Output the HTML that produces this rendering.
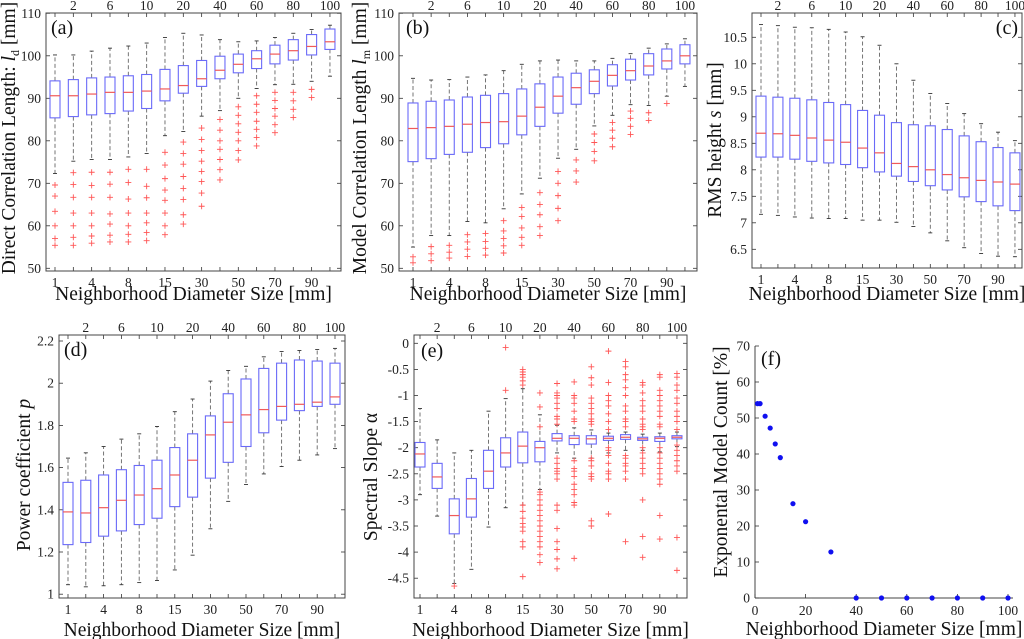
<!DOCTYPE html>
<html><head><meta charset="utf-8"><style>
html,body{margin:0;padding:0;background:#fff;}
svg{display:block;}
text{font-family:"Liberation Serif","Times New Roman",serif;}
</style></head><body>
<svg id="fig" width="1024" height="639" viewBox="0 0 1024 639" xmlns="http://www.w3.org/2000/svg" font-family="Liberation Serif, serif"></svg>
<script>
const categories=[1,2,4,6,8,10,15,20,30,40,50,60,70,80,90,100];
// (a)
const aMed=[90.6,90.6,91,91.4,91.4,91.7,92.2,93,94.6,96.6,98,99.3,100.4,101.2,102.2,103.3];
const aQ1=[85.4,85.7,86.1,86.4,87,87.6,89.4,91.2,92.8,94.6,96,97,98.1,99,100.2,101.5];
const aQ3=[94.1,94.4,94.8,95,95.3,95.6,96.8,97.7,98.9,99.9,100.4,101.2,102.5,103.8,105,106.3];
const aHi=[100.2,100.2,101.1,101.8,102.3,103,104.3,105.3,104.9,103.8,103.3,103.5,104.3,105.3,106.2,107.2];
const aLo=[72.3,75.2,75.6,75.6,76.2,77,81.2,82.2,85.8,87.1,90,92.3,93.2,93.3,94,95.2];
const aOut=[[69.6,67,63.4,60,57,55.4],[72.5,69.7,66.7,63,60,57.3,55.4],[72.6,69.5,66.7,63,60,57.6,55.9],[72.6,69.8,66.7,62.8,60.4,57.8,56.2],[73.3,70.2,66.3,63,60,58,56.2],[73.3,69.3,66.6,63,60.7,58.4,56.5],[77.3,74.3,71.1,68.4,66,63,60,57.9],[79.7,77,74.5,71.6,68.8,66.2,62.6,60.4],[83,80.3,77.7,75.2,72.8,70.4,67.7,64.6],[85,82.5,80,78,75.6,73.2,70.8],[88,86,84,82,80,77.7,75.5],[90.6,88.6,86.7,84.6,82.7,80.8,78.8],[91.4,89.5,87.6,85.8,83.8,81.9],[91.4,89.4,87.4,85.5],[92.1,90.2],[]];
// (b)
const bMed=[82.9,83.1,83.4,83.9,84.3,84.5,85.8,87.9,90.5,92.5,94,95.4,96.5,97.6,98.8,100];
const bQ1=[75.1,75.8,76.8,77.3,78.4,79.3,81.4,83.4,86.5,88.6,91.1,92.9,94.3,95.5,96.9,98.1];
const bQ3=[88.9,89.3,89.6,90.3,90.7,91.1,92.2,93.4,95,95.9,96.7,97.9,99.2,100.5,101.6,102.6];
const bHi=[94.7,94.3,94.4,95,95.5,96.5,98,98.8,99,98.8,98.8,99.4,100.5,101.8,102.8,104];
const bLo=[55,57.7,57.7,61,60.7,64,67.5,71.2,75.9,78,83.5,86,88.5,88.3,90.5,92.8];
const bOut=[[52.7,51.3],[55.1,53.4,51.8],[55.4,53.8,52.4],[57.9,56.2,54.5,52.8],[58.2,56.3,54.7,53.1],[61.2,58.8,57,55.3,53.6],[64.3,62.2,59.5,57.3,55.4],[67.8,65,62.6,59.8,57.7],[72.8,70,67.1,64.1,61.2],[75.5,72.9,70.3],[81.6,79.6,77.5,75.3],[84.3,82.5,80.6,78.6],[87,85.3,83.4,81.5],[86.6,84.8],[88.8],[]];
// (c)
const cMed=[8.69,8.68,8.65,8.6,8.56,8.52,8.41,8.32,8.12,8.06,8.0,7.91,7.85,7.8,7.77,7.73];
const cQ1=[8.24,8.24,8.2,8.16,8.13,8.1,8.04,7.96,7.88,7.78,7.7,7.62,7.49,7.4,7.32,7.23];
const cQ3=[9.39,9.37,9.35,9.32,9.27,9.23,9.12,9.03,8.89,8.85,8.83,8.76,8.64,8.53,8.42,8.32];
const cHi=[10.74,10.72,10.69,10.68,10.65,10.6,10.51,10.35,10.0,9.69,9.44,9.25,9.06,8.87,8.71,8.55];
const cLo=[7.16,7.14,7.11,7.09,7.08,7.08,7.05,7.05,7.01,6.93,6.81,6.66,6.53,6.42,6.37,6.36];
const cOut=[[],[],[],[],[],[],[],[],[],[],[],[],[],[],[],[]];
// (d)
const dMed=[1.39,1.385,1.41,1.445,1.47,1.5,1.565,1.635,1.755,1.815,1.85,1.875,1.89,1.9,1.91,1.935];
const dQ1=[1.235,1.245,1.275,1.3,1.33,1.36,1.415,1.46,1.55,1.625,1.7,1.765,1.825,1.87,1.89,1.9];
const dQ3=[1.53,1.54,1.565,1.59,1.61,1.635,1.695,1.76,1.845,1.95,2.02,2.07,2.095,2.11,2.105,2.095];
const dHi=[1.645,1.67,1.7,1.735,1.76,1.795,1.865,1.925,2.01,2.06,2.08,2.125,2.15,2.155,2.16,2.165];
const dLo=[1.045,1.035,1.04,1.045,1.055,1.065,1.115,1.185,1.31,1.44,1.52,1.57,1.605,1.635,1.66,1.69];
const dOut=[[],[],[],[],[],[],[],[],[],[],[],[],[],[],[],[]];
// (e)
const eMed=[-2.12,-2.56,-3.3,-2.98,-2.45,-2.1,-1.97,-2.0,-1.82,-1.82,-1.83,-1.82,-1.8,-1.83,-1.82,-1.8];
const eQ1=[-2.37,-2.78,-3.65,-3.33,-2.78,-2.37,-2.29,-2.27,-1.87,-1.94,-1.93,-1.86,-1.84,-1.86,-1.88,-1.83];
const eQ3=[-1.9,-2.3,-2.98,-2.59,-2.05,-1.81,-1.7,-1.88,-1.73,-1.77,-1.77,-1.78,-1.75,-1.8,-1.79,-1.77];
const eHi=[-1.25,-1.85,-2.1,-2.05,-1.3,-1.06,-0.87,-1.37,-1.57,-1.62,-1.66,-1.72,-1.7,-1.74,-1.72,-1.7];
const eLo=[-2.9,-3.31,-4.6,-4.33,-3.52,-3.15,-3.1,-2.8,-2.1,-2.2,-2.2,-2.1,-2.05,-2.05,-2.08,-1.98];
const eOut=[[],[],[-4.65],[],[],[-0.08,-0.9],
[-0.5,-0.55,-0.6,-0.65,-0.72,-0.8,-3.1,-3.22,-3.35,-3.45,-3.52,-3.6,-3.8,-3.9,-4.47],
[-0.95,-1.22,-1.6,-2.85,-2.9,-3.0,-3.1,-3.2,-3.3,-3.4,-3.5,-3.6,-3.7,-3.8,-3.9,-4.05,-4.2],
[-0.77,-0.95,-1.0,-1.05,-1.15,-1.25,-1.4,-1.45,-1.55,-2.2,-2.3,-2.4,-2.45,-2.5,-2.6,-3.1,-3.2,-3.55,-3.8,-3.95,-4.13,-4.32],
[-0.74,-1.0,-1.05,-1.15,-1.3,-1.45,-1.5,-2.25,-2.4,-2.45,-2.55,-2.7,-2.8,-2.9,-3.05,-3.1,-4.12],
[-0.45,-0.66,-0.8,-1.05,-1.15,-1.25,-1.35,-1.45,-1.5,-1.55,-2.2,-2.25,-2.35,-2.5,-2.55,-2.6,-3.4,-3.5],
[-0.15,-0.75,-1.0,-1.1,-1.2,-1.35,-1.5,-1.65,-2.0,-2.05,-2.15,-2.3,-2.45,-2.5,-2.6,-3.27],
[-0.35,-0.45,-0.6,-0.7,-0.85,-1.0,-1.2,-1.3,-1.45,-1.5,-1.6,-2.15,-2.2,-2.3,-2.35,-2.45,-2.6,-3.8],
[-0.75,-0.8,-0.95,-1.1,-1.2,-1.3,-1.45,-1.55,-1.6,-1.65,-2.0,-2.1,-2.2,-2.3,-2.4,-2.5,-3.0,-3.7,-4.1],
[-0.6,-0.65,-0.9,-1.0,-1.1,-1.2,-1.3,-1.4,-1.55,-1.6,-2.0,-2.1,-2.2,-2.3,-2.4,-2.5,-2.6,-2.7,-3.3,-3.75],
[-0.58,-0.65,-0.8,-0.9,-1.05,-1.15,-1.3,-1.4,-1.5,-1.65,-1.95,-2.05,-2.15,-2.25,-2.35,-2.45,-3.72,-4.35]];
// (f)
const fX=[1,2,4,6,8,10,15,20,30,40,50,60,70,80,90,100];
const fY=[54,54,50.5,47.2,42.8,39,26.2,21.2,12.8,0,0,0,0,0,0,0];
const abTicks=[50,60,70,80,90,100,110];
const cTicks=[6.5,7,7.5,8,8.5,9,9.5,10,10.5];
const dTicks=[1,1.2,1.4,1.6,1.8,2,2.2];
const eTicks=[-4.5,-4,-3.5,-3,-2.5,-2,-1.5,-1,-0.5,0];
const fXTicks=[0,20,40,60,80,100];
const fYTicks=[0,10,20,30,40,50,60,70];

const NS="http://www.w3.org/2000/svg";
const svg=document.getElementById('fig');
const FF='"Liberation Serif", serif';
function mk(tag,attrs,parent,txt){const e=document.createElementNS(NS,tag);for(const k in attrs)e.setAttribute(k,attrs[k]);if(tag==='text')e.setAttribute('font-family',FF);if(txt!==undefined)e.textContent=txt;(parent||svg).appendChild(e);return e;}

function boxPanel(p){
  const g=mk('g',{});
  
  
  const L=p.L,R=p.R,T=p.T,B=p.B;
  const xs=i=>p.x0+i*p.dx;
  const ys=v=>p.yv0+(p.v0-v)*p.k;
  p.ticks.forEach(t=>{const y=ys(t);
    mk('line',{x1:L,x2:L+4,y1:y,y2:y,stroke:'#333','stroke-width':0.8},g);
    mk('line',{x1:R,x2:R-4,y1:y,y2:y,stroke:'#333','stroke-width':0.8},g);
    const tl=mk('text',{x:L-5,y:y+4.5,'text-anchor':'end','font-size':13.5,fill:'#222'},g,String(t));
    
    
  });
  categories.forEach((c,i)=>{const x=xs(i);
    mk('line',{x1:x,x2:x,y1:B,y2:B-4,stroke:'#333','stroke-width':0.8},g);
    mk('line',{x1:x,x2:x,y1:T,y2:T+4,stroke:'#333','stroke-width':0.8},g);
    const top=i%2===1;
    const tl=mk('text',{x:x,y:top?T-3:B+16,'text-anchor':'middle','font-size':13.5,fill:'#222'},g,String(c));
    
    
  });
  const hw=5;
  categories.forEach((c,i)=>{const x=xs(i);
    const bg=mk('g',{},g);
    
    
    mk('line',{x1:x,x2:x,y1:ys(p.q3[i]),y2:ys(p.hi[i]),stroke:'#666','stroke-width':0.9,'stroke-dasharray':'4 2.5'},bg);
    mk('line',{x1:x,x2:x,y1:ys(p.q1[i]),y2:ys(p.lo[i]),stroke:'#666','stroke-width':0.9,'stroke-dasharray':'4 2.5'},bg);
    mk('line',{x1:x-2,x2:x+2,y1:ys(p.hi[i]),y2:ys(p.hi[i]),stroke:'#333','stroke-width':0.9},bg);
    mk('line',{x1:x-2,x2:x+2,y1:ys(p.lo[i]),y2:ys(p.lo[i]),stroke:'#333','stroke-width':0.9},bg);
    mk('rect',{x:x-hw,y:ys(p.q3[i]),width:2*hw,height:ys(p.q1[i])-ys(p.q3[i]),fill:'none',stroke:'#6a6af8','stroke-width':1.1},bg);
    mk('line',{x1:x-hw,x2:x+hw,y1:ys(p.med[i]),y2:ys(p.med[i]),stroke:'#f05a5a','stroke-width':1.2},bg);
    p.out[i].forEach(v=>{const y=ys(v);
      const o=mk('path',{d:`M${x-3} ${y}H${x+3}M${x} ${y-3}V${y+3}`,stroke:'#f55','stroke-width':0.9,fill:'none'},bg);
      
      
    });
  });
  const fr=mk('rect',{x:L,y:T,width:R-L,height:B-T,fill:'none',stroke:'#444','stroke-width':1},g);
  
  
  const pl=mk('text',{x:p.lx,y:p.ly,'text-anchor':p.la||'start','font-size':20,fill:'#111'},g,p.label);
  
  
  const xt=mk('text',{x:(L+R)/2+p.xtOff,y:p.xtY,'text-anchor':'middle','font-size':19.5,fill:'#111'},g,'Neighborhood Diameter Size [mm]');
  
  
  const yt=mk('text',{x:0,y:0,'text-anchor':'middle','font-size':19.5,fill:'#111',transform:`translate(${p.ytX},${p.ytY}) rotate(-90)`},g);
  
  
  yt.innerHTML=p.ytitle;
}

boxPanel({id:'a',L:46,R:341,T:13,B:271,x0:55,dx:18.33,v0:50,yv0:268.3,k:4.25,ticks:abTicks,
  med:aMed,q1:aQ1,q3:aQ3,hi:aHi,lo:aLo,out:aOut,label:'(a)',lx:51,ly:34,xtOff:0,xtY:300,ytX:15,ytY:138,
  ytitle:'Direct Correlation Length: <tspan font-style="italic">l</tspan><tspan font-size="12" dy="4">d</tspan><tspan dy="-4"> [mm]</tspan>'});
boxPanel({id:'b',L:399,R:697,T:13,B:271,x0:413,dx:18.13,v0:50,yv0:268.3,k:4.25,ticks:abTicks,
  med:bMed,q1:bQ1,q3:bQ3,hi:bHi,lo:bLo,out:bOut,label:'(b)',lx:406,ly:34,xtOff:0,xtY:300,ytX:366,ytY:138,
  ytitle:'Model Correlation Length <tspan font-style="italic">l</tspan><tspan font-size="12" dy="4">m</tspan><tspan dy="-4"> [mm]</tspan>'});
boxPanel({id:'c',L:752,R:1022,T:13,B:268,x0:761,dx:16.93,v0:10.5,yv0:37.3,k:53,ticks:cTicks,
  med:cMed,q1:cQ1,q3:cQ3,hi:cHi,lo:cLo,out:cOut,label:'(c)',lx:1018,ly:34,la:'end',xtOff:0,xtY:300,ytX:721,ytY:140,
  ytitle:'RMS height <tspan font-style="italic">s</tspan> [mm]'});
boxPanel({id:'d',L:59,R:345,T:335,B:598,x0:68,dx:17.8,v0:2.2,yv0:341,k:211,ticks:dTicks,
  med:dMed,q1:dQ1,q3:dQ3,hi:dHi,lo:dLo,out:dOut,label:'(d)',lx:64,ly:356,xtOff:0,xtY:636,ytX:30,ytY:475,
  ytitle:'Power coefficient <tspan font-style="italic">p</tspan>'});
boxPanel({id:'e',L:414,R:687,T:335,B:598,x0:420,dx:17.13,v0:0,yv0:343.3,k:52.2,ticks:eTicks,
  med:eMed,q1:eQ1,q3:eQ3,hi:eHi,lo:eLo,out:eOut,label:'(e)',lx:421,ly:357,xtOff:0,xtY:636,ytX:377,ytY:477,
  ytitle:'Spectral Slope α'});

(function(){
  const g=mk('g',{});
  
  
  const L=755,B=598,R=1013,T=346;
  const xs=v=>755+v*2.53, ys=v=>598-v*3.6;
  mk('line',{x1:L,x2:L,y1:T,y2:B,stroke:'#444','stroke-width':1},g);
  mk('line',{x1:L,x2:R,y1:B,y2:B,stroke:'#444','stroke-width':1},g);
  fYTicks.forEach(t=>{const y=ys(t);
    mk('line',{x1:L,x2:L+4,y1:y,y2:y,stroke:'#333','stroke-width':0.8},g);
    const tl=mk('text',{x:L-5,y:y+4.5,'text-anchor':'end','font-size':13.5,fill:'#222'},g,String(t));
    
    
  });
  fXTicks.forEach(t=>{const x=xs(t);
    mk('line',{x1:x,x2:x,y1:B,y2:B-4,stroke:'#333','stroke-width':0.8},g);
    const tl=mk('text',{x:x,y:B+17,'text-anchor':'middle','font-size':13.5,fill:'#222'},g,String(t));
    
    
  });
  fX.forEach((v,i)=>{
    const c=mk('circle',{cx:xs(v),cy:ys(fY[i]),r:2.6,fill:'#1010f0'},g);
    
    
  });
  const pl=mk('text',{x:761,y:365,'font-size':20,fill:'#111'},g,'(f)');
  
  
  const xt=mk('text',{x:884,y:635,'text-anchor':'middle','font-size':19.5,fill:'#111'},g,'Neighborhood Diameter Size [mm]');
  
  
  const yt=mk('text',{x:0,y:0,'text-anchor':'middle','font-size':19.5,fill:'#111',transform:'translate(727,462) rotate(-90)'},g,'Exponental Model Count [%]');
  
  
})();
</script>
</body></html>
